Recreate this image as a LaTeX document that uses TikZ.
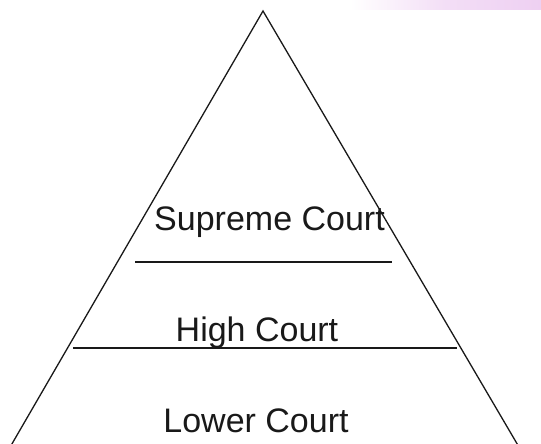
\documentclass[tikz,border=0pt]{standalone}
\usepackage{fontspec}
\setmainfont{Liberation Sans}
\usetikzlibrary{positioning}
\definecolor{wmpink}{RGB}{238,208,242}
\definecolor{inkgray}{RGB}{25,25,25}

\begin{document}
\begin{tikzpicture}[x=1pt,y=-1pt,
    court/.style={anchor=base,inner sep=0pt,text=inkgray,font=\fontsize{34}{40}\selectfont},
    edge/.style={line width=1.3pt,inkgray}]
   \useasboundingbox (0,0) rectangle (541,444);
   \clip (0,0) rectangle (541,444);
   \path
    (263,11) coordinate (apex)
    (2.6,460) coordinate (bl)
    (526.6,460) coordinate (br)
    (135,262) coordinate (s1)
    (392,262) coordinate (s2)
    (73,348) coordinate (h1)
    (457,348) coordinate (h2)
    ;

    % faint watermark band at the top
    \shade[left color=white,right color=wmpink,middle color=wmpink!70] (350,0) rectangle (541,10);

    % pyramid sides
    \draw[edge,line join=miter] (bl) -- (apex) -- (br);

    % level lines
    \draw[edge] (s1) -- (s2);
    \draw[edge] (h1) -- (h2);

    % court names
    \node[court] (supreme) at (269.5,230) {Supreme Court};
    \node[court] (high) at (257,341) {High Court};
    \node[court] (lower) at (256,432) {Lower Court};

\end{tikzpicture}
\end{document}
